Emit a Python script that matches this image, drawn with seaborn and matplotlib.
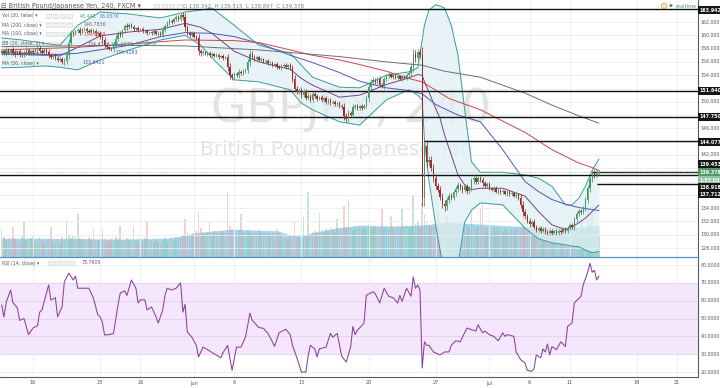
import numpy as np
import pandas as pd
import matplotlib
matplotlib.use("Agg")
import matplotlib.pyplot as plt
import matplotlib.transforms as mtransforms
from matplotlib.patches import Rectangle
import seaborn as sns

sns.set_style("white")
plt.rcParams['font.family'] = ['DejaVu Sans']

# ---------------- data ----------------
FIRST_BAR = -14          # bar index (4h bars, 6 per trading day, 0 = 16 May 2016 00:00)
first_open = 157.4
closes = [
    157.6, 157.3, 157.8, 157.5, 157.9, 157.4, 157.2, 157.6, 157.1, 157.0, 157.4, 157.8, 157.3, 157.6,
    157.5, 157.9, 158.1, 157.7, 157.4, 157.8, 157.5, 157.0, 156.7, 157.1, 156.6, 156.3, 156.5, 156.0,
    156.2, 157.0, 158.9, 160.4, 160.2, 160.6, 160.8, 160.4, 160.9, 161.0, 160.7, 160.5, 160.8, 160.6,
    160.3, 160.4, 159.8, 159.3, 158.6, 158.2, 158.0, 157.9, 158.6, 159.5, 160.3, 160.0, 160.8, 161.4,
    161.2, 161.6, 161.3, 160.9, 161.1, 160.8, 160.9, 160.6, 160.7, 160.4, 160.5, 160.3, 160.6, 160.2,
    160.4, 160.1, 160.8, 161.4, 161.9, 162.2, 162.0, 162.4, 162.7, 162.5, 163.0, 162.8, 161.2, 160.4,
    160.0, 160.3, 159.8, 159.6, 157.6, 157.3, 157.5, 157.2, 157.4, 157.0, 157.2, 156.9, 157.1, 156.8,
    156.9, 156.6, 156.7, 155.2, 154.0, 153.7, 154.2, 154.0, 154.5, 154.3, 154.6, 154.8, 156.0, 157.2,
    156.8, 156.5, 156.7, 156.3, 156.4, 156.0, 156.2, 155.8, 155.9, 155.5, 155.7, 155.3, 155.1, 155.4,
    155.6, 155.2, 155.5, 155.1, 153.5, 152.0, 151.5, 151.8, 151.0, 151.6, 150.6, 150.9, 150.3, 151.2,
    150.8, 150.4, 150.7, 150.2, 150.5, 149.9, 150.3, 149.8, 150.0, 149.6, 149.8, 149.4, 149.2, 147.8,
    147.4, 148.3, 148.0, 149.2, 149.4, 149.0, 149.3, 149.1, 149.4, 150.5, 152.3, 153.0, 153.3, 153.0,
    153.5, 152.6, 152.4, 153.4, 153.9, 154.2, 153.8, 154.0, 153.6, 153.9, 153.5, 153.8, 153.6, 154.0,
    154.3, 155.3, 157.2, 156.6, 157.5, 157.1, 135.5, 143.4, 141.0, 141.3, 140.1, 138.6, 137.4, 136.8,
    135.7, 134.6, 134.3, 135.2, 135.9, 135.6, 136.4, 136.9, 137.5, 137.1, 136.7, 137.3, 136.6, 137.0,
    138.2, 138.5, 138.0, 138.6, 138.3, 137.8, 137.4, 137.6, 137.0, 136.8, 137.1, 136.5, 136.7, 136.4,
    136.6, 136.2, 136.5, 136.1, 136.3, 135.9, 136.0, 135.6, 134.5, 133.4, 132.8, 132.1, 131.6, 131.9,
    131.2, 130.7, 131.0, 130.6, 130.9, 130.4, 130.2, 130.6, 130.3, 130.5, 130.2, 130.6, 130.4, 130.8,
    130.5, 131.0, 131.4, 131.1, 132.3, 133.2, 133.6, 133.4, 134.0, 135.3, 137.0, 138.4, 139.3, 139.0,
    139.34, 139.378,
]
wick_tenths = [
    3, 2, 4, 3, 2, 3, 4, 2, 3, 3, 2, 4, 3, 2, 3, 2, 4, 3, 2, 3,
    3, 4, 3, 2, 3, 3, 2, 3, 4, 5, 6, 4, 3, 2, 3, 4, 2, 3, 3, 2,
    3, 2, 4, 3, 3, 4, 5, 3, 2, 3, 4, 5, 4, 3, 2, 3, 4, 3, 2, 3,
    2, 3, 2, 3, 2, 3, 2, 2, 3, 2, 3, 2, 4, 3, 3, 4, 3, 2, 3, 4,
    3, 5, 6, 4, 3, 3, 2, 3, 6, 4, 3, 2, 3, 2, 3, 2, 2, 3, 2, 3,
    2, 5, 6, 4, 3, 3, 4, 3, 3, 3, 5, 6, 4, 3, 3, 2, 3, 2, 3, 2,
    2, 3, 2, 3, 2, 3, 2, 3, 2, 3, 5, 6, 4, 3, 4, 3, 3, 4, 3, 4,
    3, 3, 2, 3, 2, 3, 2, 3, 2, 3, 2, 3, 3, 6, 5, 4, 3, 4, 3, 3,
    2, 3, 2, 4, 6, 5, 4, 3, 3, 4, 3, 4, 3, 3, 2, 3, 2, 3, 2, 3,
    2, 3, 3, 5, 8, 6, 4, 5, 12, 12, 8, 6, 5, 6, 5, 4, 5, 6, 7, 5,
    4, 4, 3, 5, 4, 3, 4, 3, 4, 3, 4, 5, 4, 3, 3, 4, 3, 3, 3, 2,
    3, 2, 3, 2, 3, 2, 3, 2, 3, 2, 3, 3, 5, 6, 5, 4, 4, 3, 4, 3,
    3, 3, 2, 3, 3, 2, 3, 2, 3, 2, 3, 2, 3, 3, 3, 3, 4, 4, 3, 3,
    3, 4, 5, 5, 5, 4, 3, 3,
]
volume_k = [
    56, 40, 34, 38, 30, 60, 36, 32, 28, 42, 70, 35, 30, 38, 44, 30, 36, 40, 33, 29,
    34, 38, 60, 32, 30, 36, 28, 40, 35, 72, 44, 38, 42, 40, 86, 38, 34, 36, 32, 40,
    36, 56, 30, 34, 32, 56, 38, 34, 30, 36, 32, 40, 36, 62, 34, 30, 38, 36, 33, 62,
    34, 30, 36, 32, 38, 72, 30, 34, 28, 36, 32, 30, 34, 38, 32, 36, 40, 34, 38, 36,
    40, 44, 76, 50, 44, 46, 48, 52, 90, 58, 48, 46, 50, 72, 44, 52, 48, 46, 50, 52,
    48, 130, 62, 54, 50, 46, 52, 86, 50, 48, 54, 50, 46, 52, 48, 54, 50, 46, 50, 48,
    46, 50, 44, 56, 48, 42, 38, 40, 36, 42, 38, 72, 40, 44, 38, 80, 42, 130, 46, 50,
    52, 48, 88, 54, 50, 56, 52, 58, 54, 50, 76, 56, 52, 102, 60, 116, 58, 54, 60, 56,
    60, 58, 62, 56, 64, 60, 58, 62, 56, 60, 96, 58, 62, 56, 82, 60, 58, 62, 56, 96,
    60, 64, 58, 62, 122, 66, 70, 62, 110, 86, 70, 64, 60, 66, 62, 90, 68, 64, 70, 82,
    64, 60, 66, 62, 58, 70, 64, 60, 62, 58, 90, 64, 60, 62, 96, 122, 60, 58, 62, 56,
    58, 54, 60, 56, 52, 58, 54, 50, 56, 52, 58, 54, 60, 82, 56, 58, 52, 56, 54, 50,
    56, 52, 58, 54, 50, 56, 52, 48, 54, 50, 56, 52, 48, 54, 58, 52, 56, 60, 54, 76,
    62, 58, 102, 66, 102, 60, 58, 44,
]

# indicator lines (bar index -> value)
bb_bars = [-14, -5, 5, 12, 20, 30, 43, 57, 68, 75, 80, 90, 101, 115, 120, 125, 137, 146, 158, 168, 172,
           174, 175, 177, 180, 182, 184, 187, 190, 193, 196, 200, 210, 220, 226, 232, 238, 241, 244, 247, 250, 253]
bb_upper = [159.6, 159.3, 158.8, 158.5, 161.5, 163.5, 163.2, 162.6, 163.5, 163.8, 164.1, 161.5, 158.5, 157.3,
            155.5, 153.7, 152.2, 152.1, 154.0, 154.5, 155.1, 159.3, 161.5, 163.8, 164.6, 164.4, 164.1, 161.5,
            157.0, 148.8, 141.0, 139.4, 139.4, 139.0, 138.5, 137.3, 134.5, 134.5, 135.5, 137.3, 139.7, 141.4]
bb_lower = [155.1, 155.2, 155.4, 155.2, 154.8, 156.3, 157.8, 159.3, 160.0, 158.5, 156.6, 153.3, 153.0, 151.8,
            149.8, 148.8, 147.0, 146.5, 150.3, 151.8, 151.0, 150.3, 144.3, 138.2, 131.5, 127.7, 124.0, 121.7,
            125.5, 131.9, 133.7, 134.8, 134.5, 131.0, 129.4, 128.8, 128.5, 128.3, 128.2, 127.7, 127.3, 127.5]
bb_basis = [157.4, 157.3, 157.1, 156.9, 158.2, 159.9, 160.5, 160.9, 161.8, 161.2, 160.3, 157.6, 156.0, 154.9,
            153.5, 152.5, 150.7, 151.0, 152.6, 153.6, 154.1, 154.0, 153.0, 151.5, 149.0, 147.5, 145.0, 142.0,
            139.0, 137.5, 136.8, 137.0, 137.0, 135.8, 133.5, 131.5, 130.8, 131.2, 131.8, 132.5, 133.5, 134.47]
ma50_bars = [-14, 5, 20, 43, 57, 68, 80, 90, 101, 115, 125, 137, 146, 158, 168, 174, 180, 190, 200, 210, 220,
             226, 232, 238, 244, 250, 253]
ma50 = [157.2, 157.0, 157.3, 158.5, 159.8, 160.4, 160.3, 159.8, 158.8, 157.0, 155.9, 154.4, 153.1, 152.1, 151.7,
        151.2, 149.6, 148.0, 147.0, 142.8, 138.0, 136.5, 135.3, 134.6, 134.1, 133.8, 133.64]
ma100_bars = [-14, 20, 43, 68, 90, 101, 115, 125, 137, 146, 158, 168, 174, 186, 200, 220, 232, 244, 250, 253]
ma100 = [157.8, 158.2, 158.7, 159.3, 159.2, 158.9, 157.8, 157.0, 156.3, 155.6, 154.6, 153.5, 153.0, 150.5,
         148.8, 145.4, 142.8, 140.8, 140.1, 139.65]
ma200_bars = [-14, 43, 68, 101, 137, 158, 174, 184, 200, 220, 226, 232, 244, 253]
ma200 = [158.3, 158.5, 158.4, 157.8, 156.8, 156.0, 155.5, 154.6, 153.7, 151.3, 150.4, 149.5, 147.9, 146.78]
volma_bars = [-14, 20, 40, 60, 66, 75, 89, 100, 110, 115, 120, 126, 135, 146, 160, 174, 185, 200, 215, 230, 245, 253]
vol_ma = [38, 37, 36, 38, 42, 50, 56, 54, 52, 44, 42, 50, 58, 64, 62, 64, 70, 66, 62, 60, 60, 64]

rsi_bars = [-14, -13, -12, -10, -9, -7, -6, -4, -2, 0, 2, 3, 4, 7, 8, 10, 11, 13, 14, 16, 18, 19, 20, 22, 25,
            27, 29, 30, 31, 32, 34, 36, 38, 39, 41, 42, 44, 46, 47, 48, 50, 51, 53, 55, 56, 58, 59, 60, 62, 64,
            66, 67, 68, 69, 71, 73, 74, 76, 78, 80, 84, 85, 87, 89, 91, 93, 95, 97, 98, 101, 103, 105, 107, 108,
            110, 113, 115, 116, 118, 120, 122, 123, 124, 126, 127, 128, 131, 133, 134, 136, 138, 140, 142, 143,
            144, 145, 146, 148, 149, 152, 153, 155, 157, 159, 161, 163, 164, 165, 167, 169, 170, 171, 172, 173,
            174, 175, 176, 177, 179, 182, 184, 186, 187, 189, 191, 194, 196, 198, 199, 201, 202, 204, 206, 208,
            210, 211, 212, 215, 216, 218, 220, 221, 223, 224, 225, 227, 228, 229, 230, 231, 232, 234, 236, 238,
            239, 241, 242, 245, 246, 248, 249, 250, 251, 252, 253]
rsi_vals = [57.6, 50.9, 59, 66, 59, 56, 49, 50, 41, 44.7, 46, 53.6, 54.8, 68.8, 60.4, 61.7, 51, 56.5, 70.5, 75.5,
            71.6, 73.8, 67, 67, 67, 61.5, 52, 51, 48, 40.8, 41, 41.7, 57.6, 64.3, 65.5, 63, 71.6, 67, 58.7, 60.5,
            60.5, 54.8, 56.5, 51, 47.5, 54.8, 63, 67, 66, 67, 70, 53.6, 58, 42.5, 39.6, 35, 28.5, 34, 32.6, 31,
            28, 31, 35, 21, 34, 34, 39.6, 53, 49, 45, 44.5, 41.8, 37, 34.4, 42, 44, 41, 35, 28, 20, 20, 29, 35,
            33, 28.5, 33, 34, 41.7, 39.5, 41.7, 29, 25.6, 34, 45.6, 41, 43.5, 44.7, 47.5, 63, 65, 64, 58.7, 67,
            62.5, 61.7, 58.7, 63, 59.6, 67, 62.5, 73.3, 67, 68.8, 66, 22.3, 37, 35, 35, 31.3, 29.6, 31.3, 31.3,
            35, 37.6, 37, 44.7, 43.8, 43, 46.5, 42, 43, 41, 40, 37.6, 42, 40, 41, 40, 31.3, 27, 25, 21, 20.4, 22,
            29.6, 28, 33, 31.3, 35.7, 29.6, 34.3, 32.6, 37, 34.3, 45.6, 47.5, 58.7, 62.5, 69, 76, 81, 76, 77,
            71.6, 73.8]

level_prices = [163.942, 151.640, 147.750, 144.077, 139.453, 138.918, 137.712]
level_from_bar = [-15, -15, -15, 175, 250, -15, 252]
last_price = 139.378

tick_dates = ["2016-05-16", "2016-05-23", "2016-05-26", "2016-06-01", "2016-06-06", "2016-06-13",
              "2016-06-20", "2016-06-27", "2016-07-01", "2016-07-06", "2016-07-11", "2016-07-18", "2016-07-21"]
tick_labels = ["16", "23", "26", "Jun", "6", "13", "20", "27", "Jul", "6", "11", "18", "21"]
price_ticks = [162, 160, 158, 156, 154, 150, 146, 142, 134, 132, 130, 128]
rsi_ticks = [80, 70, 60, 50, 40, 30, 20]

# ---------------- derived ----------------
n = len(closes)
bars = np.arange(n) + FIRST_BAR
c = np.array(closes)
o = np.r_[first_open, c[:-1]]
w = np.array(wick_tenths) / 10.0
hi = np.maximum(o, c) + w
lo = np.minimum(o, c) - w
up = c >= o
UP, DN = "#3e9a62", "#9c2a2a"
ccol = np.where(up, UP, DN)
tick_bars = [int(np.busday_count("2016-05-16", d)) * 6 for d in tick_dates]

# ---------------- figure ----------------
W, H = 720, 388
fig = plt.figure(figsize=(W / 100, H / 100), dpi=100)
fig.patch.set_facecolor("white")
def fx(x): return x / W
def fy(y): return 1 - y / H

PX_R = 698
ax = fig.add_axes([0, fy(257), fx(PX_R), 257 / H])
axr = fig.add_axes([0, fy(377), fx(PX_R), 120 / H], sharex=ax)
axv = ax.twinx()

XMIN = FIRST_BAR - 0.75
XMAX = 297.3
YMIN, YMAX = 126.66, 165.31

GRID = "#ececec"
for a in (ax, axr, axv):
    a.set_xticks([]); a.set_yticks([])
    for s in a.spines.values():
        s.set_visible(False)

# volume behind the price axes
axv.set_zorder(0)
ax.set_zorder(1)
ax.patch.set_visible(False)
axv.patch.set_visible(True)
axv.patch.set_facecolor("white")
axv.fill_between(volma_bars, 0, vol_ma, color="#a6d5ef", lw=0, zorder=1)
vcol = np.where(up, "#7fc79b", "#e49a9a")
axv.bar(bars, volume_k, width=0.7, color=vcol, alpha=0.45, lw=0, zorder=2)
axv.set_ylim(0, 516)

# grid
for tb in tick_bars:
    ax.axvline(tb, color=GRID, lw=0.6, zorder=0)
    axr.axvline(tb, color=GRID, lw=0.6, zorder=0)
for p in range(128, 166, 2):
    ax.axhline(p, color=GRID, lw=0.6, zorder=0)

# watermark
ax.text(0.503, 0.575, "GBPJPY, 240", transform=ax.transAxes, ha="center", va="center",
        fontsize=33, color="#e3e3e3", zorder=0.5)
ax.text(0.482, 0.42, "British Pound/Japanese Yen", transform=ax.transAxes, ha="center", va="center",
        fontsize=14.5, color="#e3e3e3", zorder=0.5)

# bollinger bands and moving averages
ax.fill_between(bb_bars, bb_lower, bb_upper, color="#dff0f3", alpha=0.75, lw=0, zorder=1)
sns.lineplot(x=bb_bars, y=bb_upper, ax=ax, color="#3a9c98", lw=0.7, zorder=2)
sns.lineplot(x=bb_bars, y=bb_lower, ax=ax, color="#3a9c98", lw=0.7, zorder=2)
sns.lineplot(x=bb_bars, y=bb_basis, ax=ax, color="#7b3f86", lw=0.7, zorder=2)
sns.lineplot(x=ma50_bars, y=ma50, ax=ax, color="#5456b8", lw=0.7, zorder=2)
sns.lineplot(x=ma100_bars, y=ma100, ax=ax, color="#d0444a", lw=0.7, zorder=2)
sns.lineplot(x=ma200_bars, y=ma200, ax=ax, color="#6e6e72", lw=0.7, zorder=2)

# horizontal levels
for lp, lb in zip(level_prices, level_from_bar):
    ax.hlines(lp, lb, XMAX, color="#111111", lw=1.0, zorder=4)
ax.axhline(last_price, color="#7fb08e", lw=0.5, ls=(0, (1, 1.5)), zorder=4)

# candles
ax.vlines(bars, lo, hi, colors=ccol, lw=0.55, zorder=5)
body = np.where(np.abs(c - o) < 0.08, 0.08, c - o)
ax.bar(bars, body, bottom=o, width=0.62, color=ccol, lw=0, zorder=6)

ax.set_xlim(XMIN, XMAX)
ax.set_ylim(YMIN, YMAX)
ax.set_xlabel(""); ax.set_ylabel(""); axv.set_ylabel("")

# RSI panel
axr.axhspan(30, 70, color="#f4e7fb", lw=0, zorder=0)
for r in rsi_ticks:
    axr.axhline(r, color="#e2d2ea" if 30 <= r <= 70 else GRID, lw=0.6, zorder=0.5)
sns.lineplot(x=rsi_bars, y=rsi_vals, ax=axr, color="#8b3f9c", lw=0.75, zorder=3)
axr.set_xlim(XMIN, XMAX)
axr.set_ylim(17.25, 84.5)
axr.set_xlabel(""); axr.set_ylabel("")

# frame lines
fig.add_artist(plt.Line2D([fx(PX_R), fx(PX_R)], [fy(377), 1], color="#5a5a5a", lw=0.8))
fig.add_artist(plt.Line2D([0, fx(PX_R)], [fy(377), fy(377)], color="#5a5a5a", lw=0.8))
fig.add_artist(plt.Line2D([0, fx(PX_R)], [fy(257), fy(257)], color="#4f95c8", lw=0.9))

# price axis labels
tr = mtransforms.blended_transform_factory(ax.transAxes, ax.transData)
for p in price_ticks:
    ax.text(1.004, p, f"{p:.3f}", transform=tr, fontsize=3.4, color="#555555", va="center", ha="left",
            clip_on=False)
trr = mtransforms.blended_transform_factory(axr.transAxes, axr.transData)
for r in rsi_ticks:
    axr.text(1.004, r, f"{r:.4f}", transform=trr, fontsize=3.4, color="#555555", va="center", ha="left",
             clip_on=False)
# boxed labels on price axis
boxes = [("163.942", 10, "#151515"), ("151.640", 91, "#151515"), ("147.750", 117, "#151515"),
         ("144.077", 142, "#151515"), ("139.453", 164, "#151515"), ("139.378", 172, "#4f9a6a"),
         ("1:57:03", 180, "#8fc7a0"), ("138.918", 187, "#151515"), ("137.712", 194, "#151515")]
for t, yy, col in boxes:
    fig.text(fx(699.5), fy(yy), t, fontsize=3.4, color="white", fontweight="bold", va="center", ha="left",
             bbox=dict(boxstyle="square,pad=0.35", fc=col, ec="none"))

# x axis labels (placed at the tick bars through the RSI axis' data transform)
trx = mtransforms.blended_transform_factory(axr.transData, fig.transFigure)
for tb, lab in zip(tick_bars, tick_labels):
    fig.text(tb, fy(383), lab, transform=trx, fontsize=3.6, color="#555555", ha="center", va="center")

# legend texts (top-left)
LAB = "#5a5a5a"
def icons(x0, yy, size=5.0, gap=2.6):
    for k in range(4):
        fig.add_artist(Rectangle((fx(x0 + k * (size + gap)), fy(yy + size / 2)), size / W, size / H,
                                 transform=fig.transFigure, fc="#f2f2f2", ec="#cfcfcf", lw=0.4))

fig.text(fx(1), fy(6), "\u229f British Pound/Japanese Yen, 240, FXCM \u25be", fontsize=4.7, color=LAB, va="center")
icons(154, 6)
fig.text(fx(183), fy(6), "O 138.342  H 139.515  L 138.897  C 139.378", fontsize=3.9, color="#6a8f78", va="center")
rows = [(16, "Vol (20, false) \u25be", [("43.44K", "#4f9a6a", 80), ("63.657K", "#3b8fc4", 100)]),
        (25, "MA (200, close) \u25be", [("146.7836", "#6e6e72", 83)]),
        (34, "MA (100, close) \u25be", [("139.6519", "#d0444a", 83)]),
        (44, "BB (20, close, 2) \u25be", [("134.4743", "#7b3f86", 87), ("141.3870", "#3a9c98", 110),
                                         ("127.4656", "#3a9c98", 134)]),
        (53, "MA (20, close) \u25be", [("134.4283", "#5456b8", 115)]),
        (63, "MA (50, close) \u25be", [("133.6421", "#5456b8", 82)])]
for yy, lab, vals in rows:
    fig.text(fx(2), fy(yy), lab, fontsize=3.3, color=LAB, va="center")
    icons(46, yy, size=4.6, gap=2.4)
    for t, col, xx in vals:
        fig.text(fx(xx), fy(yy), t, fontsize=3.4, color=col, va="center")
fig.text(fx(2), fy(263), "RSI (14, close) \u25be", fontsize=3.3, color=LAB, va="center")
icons(48, 263, size=4.6, gap=2.4)
fig.text(fx(82), fy(263), "73.7605", fontsize=3.4, color="#8b3f9c", va="center")

# realtime indicator
fig.text(fx(664), fy(6), "\u2016", fontsize=3.2, color="#e8962e", ha="center", va="center",
         bbox=dict(boxstyle="circle,pad=0.15", fc="white", ec="#e8962e", lw=0.6))
fig.text(fx(671), fy(6), "\u25cf", fontsize=3.2, color="#4f9a6a", ha="center", va="center")
fig.text(fx(675), fy(6), "realtime", fontsize=3.6, color="#4f9a6a", ha="left", va="center")

fig.savefig("out.png", dpi=100, facecolor="white")
